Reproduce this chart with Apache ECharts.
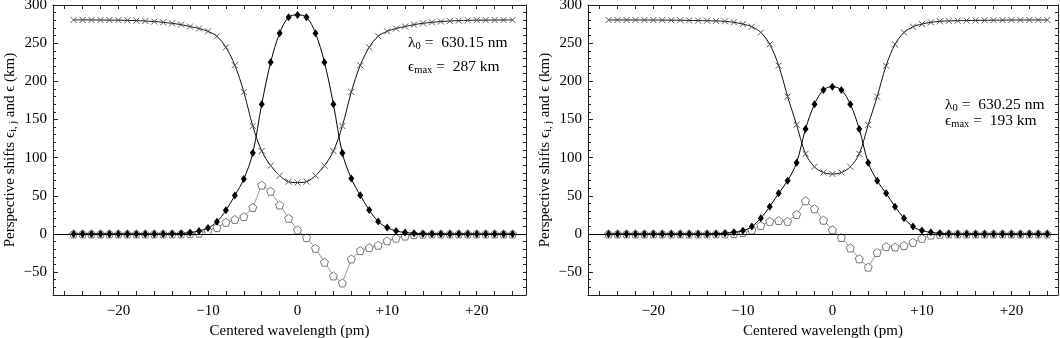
<!DOCTYPE html>
<html>
<head>
<meta charset="utf-8">
<script src="https://cdn.jsdelivr.net/npm/echarts@6/dist/echarts.min.js"></script>
<style>
html,body{margin:0;padding:0;background:#fff;}
#chart{width:1060px;height:338px;}
</style>
</head>
<body>
<div id="chart"></div>
<script>
// ---------- data ----------
const wavelengths = [-25,-24,-23,-22,-21,-20,-19,-18,-17,-16,-15,-14,-13,-12,-11,-10,-9,-8,-7,-6,-5,-4,-3,-2,-1,0,1,2,3,4,5,6,7,8,9,10,11,12,13,14,15,16,17,18,19,20,21,22,23,24];

// panel A: lambda0 = 630.15 nm
const crossA = [280.5,280.5,280.4,280.3,280.2,280.1,279.9,279.5,279.0,278.3,277.3,276.0,274.3,271.8,269.2,265.5,259.0,244.5,221.0,186.0,141.5,108.7,89.5,76.4,68.5,67.3,68.5,76.4,89.5,108.7,141.5,186.0,221.0,244.5,259.0,265.5,269.2,271.8,274.3,276.0,277.3,278.3,279.0,279.5,279.9,280.1,280.2,280.3,280.4,280.5];
const totalA = [0,0,0,0,0,0,0,0,0,0,0,0.2,0.5,1.7,4.0,7.8,16.0,31.0,50.5,72.0,106.0,170.0,225.0,263.0,284.0,287.0,284.0,263.0,225.0,170.0,106.0,72.5,50.7,31.4,16.2,8.3,3.9,2.0,0.8,0.2,0,0,0,0,0,0,0,0,0,0];
const diffA = [0,0,0,0,0,0,0,0,0,0,0,0,0.1,0.3,1.0,4.4,8.3,15.3,19.0,22.7,34.7,64.0,56.0,38.0,20.5,5.2,-4.8,-18.8,-37.0,-55.0,-64.2,-32.8,-21.8,-17.9,-14.8,-9.0,-5.5,-2.8,-0.9,-0.3,0,0,0,0,0,0,0,0,0,0];

// panel B: lambda0 = 630.25 nm
const crossB = [280.4,280.4,280.4,280.4,280.3,280.3,280.2,280.1,280.0,279.8,279.6,279.4,279.1,278.6,277.3,275.0,271.6,264.0,248.5,220.5,180.0,143.0,105.0,88.0,80.5,78.6,80.5,88.0,105.0,143.0,180.0,220.5,248.5,264.0,271.6,275.0,277.3,278.6,279.1,279.4,279.6,279.8,280.0,280.1,280.2,280.3,280.3,280.4,280.4,280.4];
const totalB = [0,0,0,0,0,0,0,0,0,0,0,0,0.3,1.0,2.2,4.2,9.6,20.5,35.8,53.3,69.8,93.4,137.6,170.0,188.7,193.0,188.7,170.0,137.6,93.4,69.8,53.3,35.8,20.5,9.6,4.4,2.2,0.9,0.3,0,0,0,0,0,0,0,0,0,0,0];
const diffB = [0,0,0,0,0,0,0,0,0,0,0,0,0,0.1,0.5,2.0,5.2,11.0,16.5,17.5,16.5,25.5,43.5,33.0,18.0,5.5,-4.6,-18.3,-32.5,-43.5,-24.3,-16.6,-17.0,-15.3,-11.0,-5.7,-1.5,-0.3,0,0,0,0,0,0,0,0,0,0,0,0];

const xTickValues = [-26,-24,-22,-20,-18,-16,-14,-12,-10,-8,-6,-4,-2,0,2,4,6,8,10,12,14,16,18,20,22,24];
const xLabelValues = [-20,-10,0,10,20];
const yMinorTickValues = [-70,-60,-50,-40,-30,-20,-10,0,10,20,30,40,50,60,70,80,90,100,110,120,130,140,150,160,170,180,190,200,210,220,230,240,250,260,270,280,290];
const yLabelValues = [-50,0,50,100,150,200,250,300];

const xTitle = 'Centered wavelength (pm)';
const panelsInfo = [
  {lambda: '630.15', emax: '287'},
  {lambda: '630.25', emax: '193'}
];

// ---------- chart ----------
const FONT = "'Liberation Serif','DejaVu Serif','Times New Roman',serif";
const FS = 15;
const chart = echarts.init(document.getElementById('chart'), null, {renderer: 'canvas'});

function fmtX(v){ v = Math.round(v); if (v < 0) return '\u2212' + (-v); if (v > 0) return '+' + v; return '0'; }
function fmtY(v){ v = Math.round(v); return v < 0 ? '\u2212' + (-v) : String(v); }

const grids = [
  {left: 53, top: 5, width: 473, height: 290, containLabel: false, outerBoundsMode: 'none'},
  {left: 588, top: 5, width: 470, height: 290, containLabel: false, outerBoundsMode: 'none'}
];
const xMax = [25.5, 25.2];

const xAxes = [], yAxes = [], series = [];
const richSub = {
  t: {fontFamily: FONT, fontSize: FS, color: '#000', lineHeight: 18, verticalAlign: 'middle'},
  s: {fontFamily: FONT, fontSize: 10.5, color: '#000', lineHeight: 8, verticalAlign: 'bottom'}
};

[0,1].forEach(function(g){
  xAxes.push({
    type: 'value', gridIndex: g, position: 'bottom', min: -27.3, max: xMax[g],
    axisLine: {show: true, onZero: false, lineStyle: {color: '#222', width: 1}},
    axisTick: {show: true, inside: true, length: 4, customValues: xTickValues, lineStyle: {color: '#222'}},
    axisLabel: {show: true, customValues: xLabelValues, formatter: fmtX, margin: 9,
      fontFamily: FONT, fontSize: FS, color: '#000'},
    splitLine: {show: false},
    name: xTitle, nameLocation: 'middle', nameGap: 28,
    nameTextStyle: {fontFamily: FONT, fontSize: FS, color: '#000'}
  });
  xAxes.push({
    type: 'value', gridIndex: g, position: 'top', min: -27.3, max: xMax[g],
    axisLine: {show: true, onZero: false, lineStyle: {color: '#222', width: 1}},
    axisTick: {show: true, inside: true, length: 4, customValues: xTickValues, lineStyle: {color: '#222'}},
    axisLabel: {show: false}, splitLine: {show: false}
  });
  yAxes.push({
    type: 'value', gridIndex: g, position: 'left', min: -80, max: 300,
    axisLine: {show: true, onZero: false, lineStyle: {color: '#222', width: 1}},
    axisTick: {show: true, inside: true, length: 5, customValues: yLabelValues, lineStyle: {color: '#222'}},
    axisLabel: {show: true, customValues: yLabelValues, formatter: fmtY, margin: 6,
      fontFamily: FONT, fontSize: FS, color: '#000'},
    splitLine: {show: false},
    name: '{t|Perspective shifts \u03F5}{s|i, j}{t| and \u03F5 (km)}',
    nameLocation: 'middle', nameGap: 34, nameRotate: 90,
    nameTextStyle: {rich: richSub, fontFamily: FONT, fontSize: FS, color: '#000'}
  });
  yAxes.push({
    type: 'value', gridIndex: g, position: 'left', min: -80, max: 300,
    axisLine: {show: false, onZero: false},
    axisTick: {show: true, inside: true, length: 3, customValues: yMinorTickValues, lineStyle: {color: '#222'}},
    axisLabel: {show: false}, splitLine: {show: false}
  });
  yAxes.push({
    type: 'value', gridIndex: g, position: 'right', min: -80, max: 300,
    axisLine: {show: true, onZero: false, lineStyle: {color: '#222', width: 1}},
    axisTick: {show: true, inside: true, length: 3, customValues: yMinorTickValues, lineStyle: {color: '#222'}},
    axisLabel: {show: false}, splitLine: {show: false}
  });
});

const pentagon = 'path://M0,-1L0.951,-0.309L0.588,0.809L-0.588,0.809L-0.951,-0.309Z';
const cross = 'path://M0,0L10,10M10,0L0,10';

function pairs(arr){ return wavelengths.map(function(w, i){ return [w, arr[i]]; }); }

const sets = [[crossA, totalA, diffA], [crossB, totalB, diffB]];
[0,1].forEach(function(g){
  const xi = g * 2, yi = g * 3;
  series.push({
    type: 'line', xAxisIndex: xi, yAxisIndex: yi, data: pairs(sets[g][0]),
    smooth: 0.35, symbol: cross, symbolSize: 6, showAllSymbol: true,
    lineStyle: {color: '#111', width: 1},
    itemStyle: {color: 'rgba(0,0,0,0)', borderColor: '#555', borderWidth: 1},
    silent: true, animation: false, z: 2,
    markLine: {silent: true, symbol: 'none', label: {show: false},
      lineStyle: {color: '#000', width: 1, type: 'solid'}, data: [{yAxis: 0}], animation: false}
  });
  series.push({
    type: 'line', xAxisIndex: xi, yAxisIndex: yi, data: pairs(sets[g][2]),
    smooth: false, symbol: pentagon, symbolSize: 8, showAllSymbol: true,
    lineStyle: {color: '#999', width: 1},
    itemStyle: {color: '#fff', borderColor: '#777', borderWidth: 1},
    silent: true, animation: false, z: 3
  });
  series.push({
    type: 'line', xAxisIndex: xi, yAxisIndex: yi, data: pairs(sets[g][1]),
    smooth: 0.35, symbol: 'diamond', symbolSize: [6, 8], showAllSymbol: true,
    lineStyle: {color: '#000', width: 1},
    itemStyle: {color: '#000'},
    silent: true, animation: false, z: 4
  });
});

const annRich = {
  t: {fontFamily: FONT, fontSize: 15.5, fill: '#000', lineHeight: 18, verticalAlign: 'middle'},
  s: {fontFamily: FONT, fontSize: 10.5, fill: '#000', lineHeight: 8, verticalAlign: 'bottom'}
};
function ann(x, y, txt){
  return {type: 'text', left: x, top: y, z: 10, silent: true,
    style: {text: txt, rich: annRich, fontFamily: FONT, fontSize: 15.5, fill: '#000'}};
}

chart.setOption({
  animation: false,
  backgroundColor: '#fff',
  grid: grids,
  xAxis: xAxes,
  yAxis: yAxes,
  series: series,
  graphic: [
    ann(408, 35, '{t|\u03BB}{s|0}{t| =  ' + panelsInfo[0].lambda + ' nm}'),
    ann(408, 59, '{t|\u03F5}{s|max}{t| =  ' + panelsInfo[0].emax + ' km}'),
    ann(945, 97, '{t|\u03BB}{s|0}{t| =  ' + panelsInfo[1].lambda + ' nm}'),
    ann(945, 113, '{t|\u03F5}{s|max}{t| =  ' + panelsInfo[1].emax + ' km}')
  ]
});
</script>
</body>
</html>
